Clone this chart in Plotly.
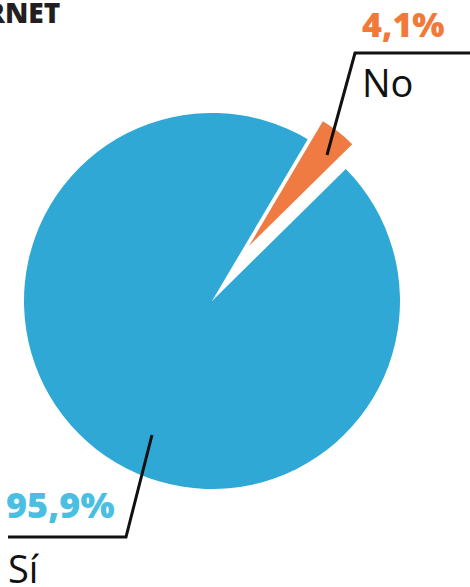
import plotly.graph_objects as go

# ---- data ----
labels = ["No", "Sí"]
values = [4.1, 95.9]
slice_colors = ["#ef7a42", "#2fa8d5"]
label_colors = ["#f07a3a", "#4bbfe2"]
title_text = "INTERNET"

W, H = 470, 587


def px(x):
    return x / W


def py(y):
    return 1 - y / H


def fmt(v):
    return f"{v:.1f}".replace(".", ",") + "%"


fig = go.Figure()

# main (blue) pie with the "No" slot left empty
fig.add_trace(go.Pie(
    labels=labels, values=values, sort=False, direction="clockwise",
    rotation=38 - values[0] / sum(values) * 180,
    marker=dict(colors=["rgba(0,0,0,0)", slice_colors[1]], line=dict(width=0)),
    textinfo="none", hoverinfo="label+percent", showlegend=False,
    domain=dict(x=[px(24), px(400)], y=[py(489), py(113)]),
))

# detached (orange) slice
fig.add_trace(go.Pie(
    labels=labels, values=values, sort=False, direction="clockwise",
    rotation=38 - values[0] / sum(values) * 180,
    marker=dict(colors=[slice_colors[0], "rgba(0,0,0,0)"], line=dict(width=0)),
    textinfo="none", hoverinfo="label+percent", showlegend=False,
    domain=dict(x=[px(104), px(394)], y=[py(391), py(101)]),
))

font_fam = "Open Sans"
anns = [
    dict(text=title_text, x=px(62), y=py(12), xanchor="right", yanchor="middle",
         font=dict(family=font_fam, size=28, color="#231f20", weight=800)),
    dict(text=fmt(values[0]), x=px(360), y=py(24), xanchor="left", yanchor="middle",
         font=dict(family=font_fam, size=34, color=label_colors[0], weight=800)),
    dict(text=labels[0], x=px(360), y=py(82), xanchor="left", yanchor="middle",
         font=dict(family=font_fam, size=38, color="#111111")),
    dict(text=fmt(values[1]), x=px(4), y=py(504), xanchor="left", yanchor="middle",
         font=dict(family=font_fam, size=36, color=label_colors[1], weight=800)),
    dict(text=labels[1], x=px(6), y=py(568), xanchor="left", yanchor="middle",
         font=dict(family=font_fam, size=38, color="#111111")),
]
for a in anns:
    a.update(xref="paper", yref="paper", showarrow=False)

line_style = dict(color="#111111", width=3)
shapes = [
    dict(type="path", xref="paper", yref="paper", line=line_style,
         path=f"M {px(327)} {py(155)} L {px(355)} {py(53)} L {px(470)} {py(53)}"),
    dict(type="path", xref="paper", yref="paper", line=line_style,
         path=f"M {px(152)} {py(435)} L {px(126)} {py(537)} L {px(8)} {py(537)}"),
]

fig.update_layout(
    width=W, height=H, margin=dict(l=0, r=0, t=0, b=0),
    paper_bgcolor="white", plot_bgcolor="white",
    annotations=anns, shapes=shapes,
)

fig.write_html("out.html")
